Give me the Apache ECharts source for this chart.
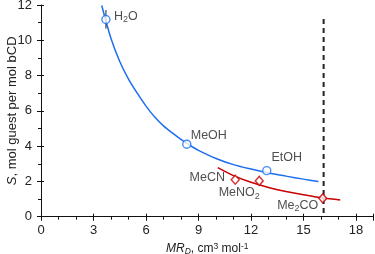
<!DOCTYPE html>
<html><head><meta charset="utf-8">
<script src="https://cdn.jsdelivr.net/npm/echarts@6/dist/echarts.min.js"></script>
<style>html,body{margin:0;padding:0;background:#fff}#c{width:375px;height:254px}</style>
</head><body><div id="c"></div>
<script>
// Data
const xTicks = [0, 3, 6, 9, 12, 15, 18];
const yTicks = [0, 2, 4, 6, 8, 10, 12];
const alcoholNames = ['H2O', 'MeOH', 'EtOH'];
const alcoholX = [3.71, 8.33, 12.9];
const alcoholY = [11.18, 4.11, 2.61];
const aproticNames = ['MeCN', 'MeNO2', 'Me2CO'];
const aproticX = [11.1, 12.47, 16.1];
const aproticY = [2.1, 2.03, 1.04];
const blueFitX = [3.47, 4.0, 4.5, 5.0, 5.5, 6.0, 6.5, 7.0, 7.5, 8.0, 8.5, 9.0, 10.0, 11.0, 12.0, 13.0, 14.0, 15.0, 15.85];
const blueFitY = [11.97, 10.1, 8.8, 7.8, 7.0, 6.27, 5.65, 5.15, 4.75, 4.38, 4.05, 3.76, 3.3, 2.95, 2.7, 2.48, 2.3, 2.13, 1.99];
const redFitX = [10.1, 11.0, 12.0, 13.0, 14.0, 15.0, 16.1, 17.1];
const redFitY = [2.78, 2.33, 1.95, 1.66, 1.43, 1.24, 1.06, 0.95];
const h2oErrX = [3.71, 3.71];
const h2oErrY = [11.72, 10.66];
const cutoffX = [16.15, 16.15];
const cutoffY = [11.2, 0];

const FONT = 'Liberation Sans, Arial, sans-serif';
const labelText = {
  'H2O': '{a|H}{s|2}{a|O}',
  'MeOH': '{a|MeOH}',
  'EtOH': '{a|EtOH}',
  'MeCN': '{a|MeCN}',
  'MeNO2': '{a|MeNO}{s|2}',
  'Me2CO': '{a|Me}{s|2}{a|CO}'
};
const labelOffset = {
  'H2O': [20, -3], 'MeOH': [22, -9], 'EtOH': [20, -13],
  'MeCN': [-28, -2], 'MeNO2': [-20, 12], 'Me2CO': [-25, 7]
};
const rich = {
  a: {fontSize: 12.5, fontFamily: FONT, color: '#222', lineHeight: 15},
  s: {fontSize: 9, fontFamily: FONT, color: '#222', padding: [7, 0, 0, 0], lineHeight: 15}
};
function pts(names, xs, ys) {
  return names.map((n, i) => ({
    value: [xs[i], ys[i]],
    label: {show: true, position: 'inside', offset: labelOffset[n], formatter: labelText[n], rich: rich}
  }));
}
function zip(xs, ys) { return xs.map((x, i) => [x, ys[i]]); }

const BLUE = '#1e6ff0', RED = '#c80000';
const chart = echarts.init(document.getElementById('c'), null, {renderer: 'canvas'});
chart.setOption({
  animation: false,
  grid: {left: 41, right: 1.5, top: 5, bottom: 37.3, containLabel: false, outerBoundsMode: 'none'},
  xAxis: [{
    type: 'value', min: 0, max: 19, interval: 3,
    axisLine: {show: true, lineStyle: {color: '#111', width: 1}},
    axisTick: {show: true, length: 4, inside: false, lineStyle: {color: '#111'}},
    minorTick: {show: true, splitNumber: 3, length: 3, lineStyle: {color: '#111'}},
    splitLine: {show: false},
    axisLabel: {color: '#222', fontSize: 13, fontFamily: FONT, margin: 7,
      formatter: v => xTicks.includes(v) ? String(v) : ''},
    name: '{i|MR}{si|D}{a|, cm}{sup|3}{a| mol}{sup|-1}',
    nameLocation: 'middle', nameGap: 23,
    nameTextStyle: {rich: {
      i: {fontSize: 12, fontStyle: 'italic', fontFamily: FONT, color: '#222', lineHeight: 14},
      si: {fontSize: 8.5, fontStyle: 'italic', fontFamily: FONT, color: '#222', padding: [6, 0, 0, 0], lineHeight: 14},
      a: {fontSize: 12, fontFamily: FONT, color: '#222', lineHeight: 14},
      sup: {fontSize: 8.5, fontFamily: FONT, color: '#222', padding: [0, 0, 5, 0], lineHeight: 14}
    }}
  }, {
    type: 'value', min: 0, max: 19, interval: 3, position: 'bottom', offset: 0,
    axisLine: {show: false},
    axisTick: {show: true, length: 3, inside: true, lineStyle: {color: '#111'}},
    axisLabel: {show: false}, splitLine: {show: false}
  }],
  yAxis: [{
    type: 'value', min: 0, max: 12, interval: 2,
    axisLine: {show: true, lineStyle: {color: '#111', width: 1}},
    axisTick: {show: true, length: 4, inside: false, lineStyle: {color: '#111'}},
    minorTick: {show: true, splitNumber: 2, length: 3, lineStyle: {color: '#111'}},
    splitLine: {show: false},
    axisLabel: {color: '#222', fontSize: 13, fontFamily: FONT, margin: 9,
      formatter: v => yTicks.includes(v) ? String(v) : ''},
    name: '{i|S}{a|, mol guest per mol bCD}',
    nameLocation: 'middle', nameGap: 22, nameMoveOverlap: false,
    nameTextStyle: {rich: {
      i: {fontSize: 13, fontStyle: 'italic', fontFamily: FONT, color: '#222'},
      a: {fontSize: 13, fontFamily: FONT, color: '#222'}
    }}
  }, {
    type: 'value', min: 0, max: 12, interval: 2, position: 'left', offset: 0,
    axisLine: {show: false},
    axisTick: {show: true, length: 3, inside: true, lineStyle: {color: '#111'}},
    axisLabel: {show: false}, splitLine: {show: false}
  }],
  series: [
    {type: 'line', data: zip(blueFitX, blueFitY), smooth: 0.3, showSymbol: false,
      lineStyle: {color: BLUE, width: 1.5}, z: 2},
    {type: 'line', data: zip(redFitX, redFitY), smooth: 0.3, showSymbol: false,
      lineStyle: {color: RED, width: 1.5}, z: 2},
    {type: 'line', data: zip(cutoffX, cutoffY), showSymbol: false,
      lineStyle: {color: '#222', width: 2, type: [5, 4]}, z: 1},
    {type: 'line', data: zip(h2oErrX, h2oErrY), showSymbol: false,
      lineStyle: {color: '#222', width: 1}, z: 3},
    {type: 'scatter', data: pts(alcoholNames, alcoholX, alcoholY), symbol: 'circle', symbolSize: 8,
      itemStyle: {color: '#fff', borderColor: BLUE, borderWidth: 1.4}, z: 4},
    {type: 'scatter', data: pts(aproticNames, aproticX, aproticY), symbol: 'diamond', symbolSize: [8, 9],
      itemStyle: {color: '#fff', borderColor: RED, borderWidth: 1.4}, z: 4}
  ]
});
</script></body></html>
